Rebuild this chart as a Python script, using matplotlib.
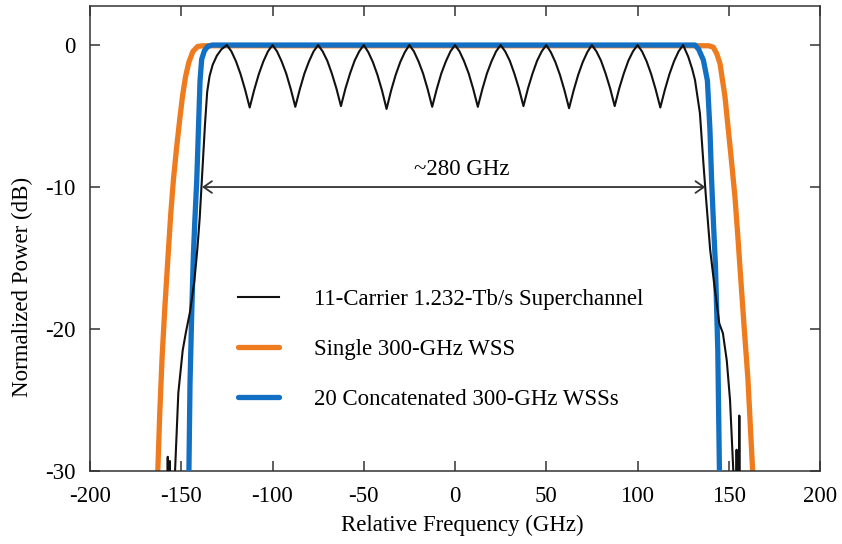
import numpy as np
import matplotlib
matplotlib.use("Agg")
import matplotlib.pyplot as plt
from matplotlib.lines import Line2D

plt.rcParams['font.family'] = ['Liberation Serif', 'DejaVu Serif']
plt.rcParams['font.size'] = 16.5
plt.rcParams['axes.unicode_minus'] = False

# ---- data (GHz, dB) ----
# 11-carrier superchannel: left skirt, ripple region, right skirt
sc_left_x = [-159.0, -157.6, -157.4, -157.1, -156.5, -156.2, -155.9, -154.3,
             -153.4, -151.6, -149.2, -147.4, -145.2, -142.8, -141.2, -139.9,
             -138.8, -137.0, -135.8, -134.5, -132.8, -130.5, -128.0]
sc_left_y = [-40.0, -40.0, -29.0, -40.0, -40.0, -29.3, -40.0, -40.0,
             -30.0, -24.5, -21.5, -20.2, -18.8, -16.6, -14.4, -12.2,
             -9.7, -5.6, -3.3, -2.2, -1.4, -0.75, -0.3]

# ripple region sampled every 2.5 GHz from -125 to 125
sc_mid_x = list(np.arange(-125.0, 125.01, 2.5))
sc_mid_y = [
    0.00, -0.45, -1.15, -2.05, -3.15, -4.40, -3.15, -2.05, -1.15, -0.45,
    0.00, -0.45, -1.15, -2.00, -3.10, -4.35, -3.10, -2.00, -1.15, -0.45,
    0.00, -0.45, -1.10, -2.00, -3.05, -4.30, -3.05, -2.00, -1.10, -0.45,
    0.00, -0.50, -1.20, -2.10, -3.20, -4.50, -3.20, -2.10, -1.20, -0.50,
    0.00, -0.45, -1.15, -2.00, -3.10, -4.35, -3.10, -2.00, -1.15, -0.45,
    0.00, -0.45, -1.15, -2.00, -3.10, -4.35, -3.10, -2.00, -1.15, -0.45,
    0.00, -0.45, -1.10, -2.00, -3.05, -4.30, -3.05, -2.00, -1.10, -0.45,
    0.00, -0.50, -1.20, -2.10, -3.20, -4.45, -3.20, -2.10, -1.20, -0.50,
    0.00, -0.45, -1.10, -2.00, -3.05, -4.30, -3.05, -2.00, -1.10, -0.45,
    0.00, -0.45, -1.15, -2.05, -3.15, -4.40, -3.15, -2.05, -1.15, -0.45,
    0.00,
]

sc_right_x = [127.8, 130.0, 131.5, 134.2, 136.1, 137.5, 138.7, 139.8, 142.0,
              144.8, 146.8, 148.9, 150.7, 152.5, 153.3, 154.0, 154.3, 154.6,
              155.5, 155.8, 156.1, 158.0]
sc_right_y = [-0.82, -1.7, -2.46, -4.8, -8.3, -10.7, -12.6, -14.4, -16.8,
              -19.6, -20.3, -22.2, -25.0, -30.0, -40.0, -40.0, -28.5, -40.0,
              -40.0, -26.1, -40.0, -40.0]

# single 300-GHz WSS
wss1_x = [-163.1, -161.8, -160.5, -159.0, -157.3, -155.8, -154.3, -152.6,
          -150.8, -149.2, -147.6, -145.8, -143.6, -141.0, -138.0,
          139.0, 141.5, 143.4, 145.2, 147.9, 149.8, 151.6, 153.4, 155.0,
          156.6, 158.4, 160.5, 163.5]
wss1_y = [-31.0, -26.0, -22.0, -18.5, -15.0, -12.0, -9.5, -7.3,
          -5.2, -3.5, -2.2, -1.2, -0.45, -0.1, -0.05,
          -0.05, -0.15, -0.6, -1.3, -3.6, -6.0, -8.3, -10.7, -13.5,
          -16.5, -19.8, -23.5, -31.0]

# 20 concatenated 300-GHz WSSs
wss20_x = [-145.9, -145.2, -144.3, -143.4, -142.6, -141.5, -140.6, -139.7,
           -138.8, -137.3, -135.5, -133.0,
           131.5, 133.5, 136.1, 138.3, 139.7, 140.6, 141.6, 142.7, 144.0, 145.0]
wss20_y = [-31.0, -23.8, -19.1, -15.0, -12.5, -9.5, -6.0, -2.5,
           -1.0, -0.4, -0.1, 0.0,
           0.0, -0.3, -1.06, -2.5, -6.0, -9.5, -12.5, -15.5, -21.5, -31.0]

labels = ["11-Carrier 1.232-Tb/s Superchannel",
          "Single 300-GHz WSS",
          "20 Concatenated 300-GHz WSSs"]

BLACK = "#111111"
ORANGE = "#EE7C1F"
BLUE = "#1170C3"

fig = plt.figure(figsize=(8.42, 5.44), dpi=100)
ax = fig.add_axes([90 / 842, 1 - 471 / 544, 730 / 842, 465 / 544])

sc_x = sc_left_x + sc_mid_x + sc_right_x
sc_y = sc_left_y + sc_mid_y + sc_right_y

ax.plot(wss1_x, wss1_y, color=ORANGE, lw=3.8, zorder=2)
ax.plot(wss20_x, wss20_y, color=BLUE, lw=3.8, zorder=3)
ax.plot(sc_x, sc_y, color=BLACK, lw=1.5, zorder=4)

# bandwidth arrow
ax.annotate("", xy=(-138.6, -10), xytext=(137.2, -10),
            arrowprops=dict(arrowstyle="<->,head_length=0.5,head_width=0.35",
                            color="#333333", lw=1.3, shrinkA=0, shrinkB=0,
                            mutation_scale=12), zorder=5)
ax.text(3.5, -9.15, "~280 GHz", ha="center", va="baseline")

ax.set_xlim(-200, 200)
ax.set_ylim(-30, 2.75)
ax.set_xticks(np.arange(-200, 201, 50))
ax.set_yticks([-30, -20, -10, 0])
ax.tick_params(direction="in", length=7, width=1.1, top=True, right=True,
               pad=10.5, color="#333333")
for s in ax.spines.values():
    s.set_linewidth(1.1)
    s.set_color("#333333")

ax.set_xlabel("Relative Frequency (GHz)")
ax.set_ylabel("Normalized Power (dB)")
ax.xaxis.set_label_coords(0.51, -0.094)
ax.yaxis.set_label_coords(-0.078, 0.396)

handles = [Line2D([], [], color=BLACK, lw=1.5),
           Line2D([], [], color=ORANGE, lw=3.8, solid_capstyle="round"),
           Line2D([], [], color=BLUE, lw=3.8, solid_capstyle="round")]
ax.legend(handles, labels, loc="center left", bbox_to_anchor=(0.203, 0.262),
          frameon=False, borderpad=0, borderaxespad=0, handlelength=1.8,
          handletextpad=1.5, labelspacing=1.27)

fig.savefig("out.png", dpi=100)
